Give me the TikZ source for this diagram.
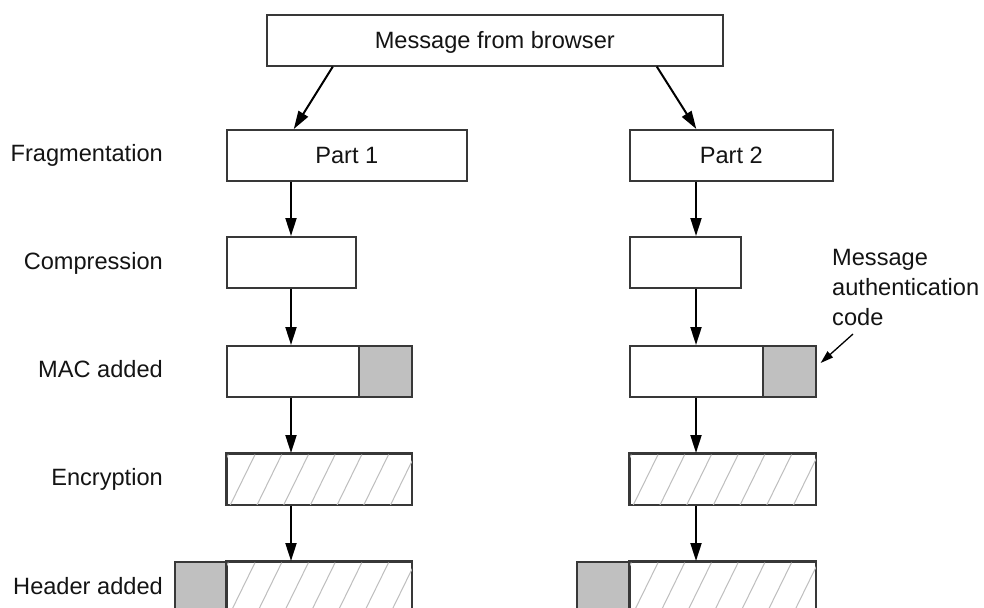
\documentclass[tikz,border=0pt]{standalone}
\usepackage{fontspec}
\setmainfont{Liberation Sans}
\usetikzlibrary{arrows.meta,calc}
\definecolor{macgray}{HTML}{C0C0C0}
\definecolor{edgecol}{HTML}{383838}
\definecolor{hatchgray}{HTML}{BEBEBE}
\definecolor{inkcol}{HTML}{141414}

% diagonal hatching clipped to a node
\newcommand\hatchnode[1]{%
  \begin{scope}
    \clip (#1.south west) rectangle (#1.north east);
    \foreach \i in {-1,...,8}
      \draw[hatchline] ([xshift=4pt+\i*26.7pt]#1.south west) -- ++(25,-51);
  \end{scope}
  \draw[edgecol, line width=1.6pt] (#1.south west) rectangle (#1.north east);
}

\begin{document}
\begin{tikzpicture}[x=1pt,y=-1pt,
  font=\fontsize{23.6}{30}\selectfont, text=inkcol,
  box/.style={draw=edgecol, line width=1.6pt, fill=white, minimum height=51pt,
    inner sep=0pt, text height=16.4pt, text depth=0pt, anchor=north west},
  macbox/.style={box, fill=macgray},
  lab/.style={anchor=base east, inner sep=0pt},
  arr/.style={draw=black, line width=2pt, -{Triangle[length=18pt,width=11pt]}},
  thinarr/.style={draw=black, line width=1.3pt, -{Triangle[length=13pt,width=8pt]}},
  hatchline/.style={draw=hatchgray, line width=1pt}]

\useasboundingbox[fill=white] (0,0) rectangle (984,607);

% column positions of the vertical arrows
\coordinate (colL) at (291,0);
\coordinate (colR) at (696,0);

% original message
\node[box, minimum width=456pt] (msg) at (266,14) {Message from browser};

% fragmentation
\node[box, minimum width=240pt] (p1) at (226,129) {Part 1};
\node[box, minimum width=203pt] (p2) at (629,129) {Part 2};

% compression
\node[box, minimum width=129pt] (c1) at (226,236) {};
\node[box, minimum width=111pt] (c2) at (629,236) {};

% MAC added
\node[box, minimum width=132pt] (m1a) at (226,345) {};
\node[macbox, minimum width=53pt] (m1b) at (358,345) {};
\node[box, minimum width=133pt] (m2a) at (629,345) {};
\node[macbox, minimum width=53pt] (m2b) at (762,345) {};

% encryption
\node[box, minimum width=185pt] (e1) at (226,453) {};
\node[box, minimum width=186pt] (e2) at (629,453) {};
\hatchnode{e1}
\hatchnode{e2}

% header added
\node[macbox, minimum width=52pt] (h1a) at (174,561) {};
\node[box, minimum width=185pt] (h1b) at (226,561) {};
\node[macbox, minimum width=53pt] (h2a) at (576,561) {};
\node[box, minimum width=186pt] (h2b) at (629,561) {};
\hatchnode{h1b}
\hatchnode{h2b}

% stage labels
\node[lab] (lfrag) at (163,161) {Fragmentation};
\node[lab] (lcomp) at (163,269) {Compression};
\node[lab] (lmac)  at (163,377) {MAC added};
\node[lab] (lenc)  at (163,485) {Encryption};
\node[lab] (lhdr)  at (163,594) {Header added};

% MAC annotation (base anchor sits on the last line)
\node[anchor=base west, inner sep=0pt, align=left] (macnote) at (832,325)
  {Message\\authentication\\code};
\coordinate (macptr) at (853,334);
\draw[thinarr] (macptr) -- ([shift={(4,18)}]m2b.north east);

% splitting arrows
\draw[arr] ([xshift=-162pt]msg.south) -- ([xshift=-53pt]p1.north);
\draw[arr] ([xshift=162pt]msg.south) -- ([xshift=-35pt]p2.north);

% processing arrows, left column
\draw[arr] (p1.south -| colL) -- (c1.north -| colL);
\draw[arr] (c1.south -| colL) -- (m1a.north -| colL);
\draw[arr] (m1a.south -| colL) -- (e1.north -| colL);
\draw[arr] (e1.south -| colL) -- (h1b.north -| colL);

% processing arrows, right column
\draw[arr] (p2.south -| colR) -- (c2.north -| colR);
\draw[arr] (c2.south -| colR) -- (m2a.north -| colR);
\draw[arr] (m2a.south -| colR) -- (e2.north -| colR);
\draw[arr] (e2.south -| colR) -- (h2b.north -| colR);

\end{tikzpicture}
\end{document}
